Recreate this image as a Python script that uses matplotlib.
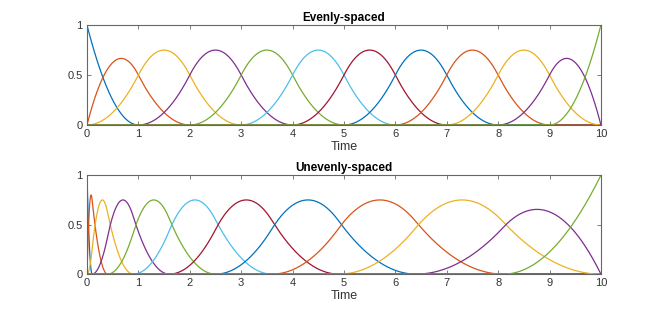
import numpy as np
import matplotlib
matplotlib.use('Agg')
from matplotlib import pyplot as plt

# quadratic B-spline basis, knot vectors
degree = 2
even_knots = [0, 0, 0, 1, 2, 3, 4, 5, 6, 7, 8, 9, 10, 10, 10]
uneven_knots = [0, 0, 0, 0.1, 0.4, 0.9, 1.6, 2.5, 3.6, 4.9, 6.4, 8.1, 10, 10, 10]
titles = ['Evenly-spaced', 'Unevenly-spaced']
xticks = list(range(0, 11))
yticks = [0, 0.5, 1]
yticklabels = ['0', '0.5', '1']

colors = [(0, 0.447, 0.741), (0.85, 0.325, 0.098), (0.929, 0.694, 0.125),
          (0.494, 0.184, 0.556), (0.466, 0.674, 0.188), (0.301, 0.745, 0.933),
          (0.635, 0.078, 0.184)]


def basis(knots, i, k, t):
    # Cox-de Boor recursion
    if k == 0:
        if knots[i + 1] == knots[-1]:
            return ((t >= knots[i]) & (t <= knots[i + 1])).astype(float) * (knots[i] < knots[i + 1])
        return ((t >= knots[i]) & (t < knots[i + 1])).astype(float)
    out = np.zeros_like(t)
    d1 = knots[i + k] - knots[i]
    d2 = knots[i + k + 1] - knots[i + 1]
    if d1 > 0:
        out += (t - knots[i]) / d1 * basis(knots, i, k - 1, t)
    if d2 > 0:
        out += (knots[i + k + 1] - t) / d2 * basis(knots, i + 1, k - 1, t)
    return out


t = np.linspace(0, 10, 2001)
plt.rcParams['font.family'] = ['Liberation Sans', 'DejaVu Sans']

fig = plt.figure(figsize=(6.64, 3.14), dpi=100)
positions = [[0.131, 0.602, 0.774, 0.318], [0.131, 0.127, 0.774, 0.315]]
grey = (0.4, 0.4, 0.4)
text_grey = (0.2, 0.2, 0.2)

for pos, knots, title in zip(positions, [even_knots, uneven_knots], titles):
    ax = fig.add_axes(pos)
    nb = len(knots) - degree - 1
    for i in range(nb):
        ax.plot(t, basis(knots, i, degree, t), color=colors[i % len(colors)], lw=0.9)
    ax.set_xlim(0, 10)
    ax.set_ylim(0, 1)
    ax.set_xticks(xticks)
    ax.set_yticks(yticks)
    ax.set_yticklabels(yticklabels)
    ax.tick_params(direction='in', top=True, right=True, labelsize=8,
                   length=3, width=0.6, color=grey, labelcolor=text_grey, pad=3)
    for s in ax.spines.values():
        s.set_color(grey)
        s.set_linewidth(0.8)
    ax.set_title(title, fontsize=8.5, fontweight='bold', pad=3)
    ax.set_xlabel('Time', fontsize=9, labelpad=1, color=text_grey)

plt.savefig('out.png', dpi=100)
